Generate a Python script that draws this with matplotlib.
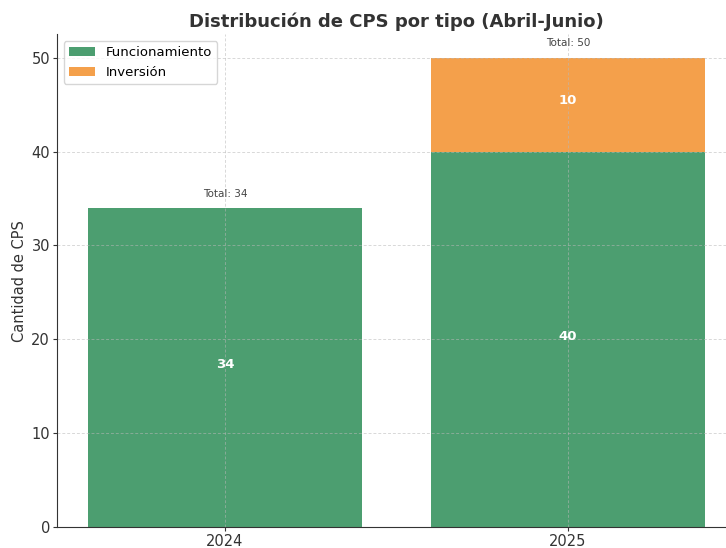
import matplotlib
matplotlib.use("Agg")
import matplotlib.pyplot as plt
import numpy as np

years = ["2024", "2025"]
funcionamiento = [34, 40]
inversion = [0, 10]
totals = [34, 50]

green = "#4c9e70"
orange = "#f4a04b"

fig = plt.figure(figsize=(7.26, 5.48), dpi=100)
ax = fig.add_axes([0.0785, 0.0383, 0.935, 0.899])

x = np.arange(len(years))
ax.bar(x, funcionamiento, width=0.8, color=green, label="Funcionamiento", zorder=1)
ax.bar(x, inversion, width=0.8, bottom=funcionamiento, color=orange, label="Inversión", zorder=1)

for i in range(len(years)):
    ax.text(x[i], funcionamiento[i] / 2 + 0.3, str(funcionamiento[i]), ha="center", va="center",
            color="white", fontsize=9.5, fontweight="bold", zorder=4)
    if inversion[i] > 0:
        ax.text(x[i], funcionamiento[i] + inversion[i] / 2 + 0.4, str(inversion[i]), ha="center", va="center",
                color="white", fontsize=9.5, fontweight="bold", zorder=4)
    ax.text(x[i], totals[i] + 1, f"Total: {totals[i]}", ha="center", va="bottom",
            color="#444444", fontsize=7.5, zorder=4)

ax.set_xticks(x)
ax.set_xticklabels(years)
ax.tick_params(axis="both", labelsize=10.5, colors="#333333", length=3, pad=2)
ax.set_ylabel("Cantidad de CPS", fontsize=10.5, color="#333333", labelpad=3)
ax.set_title("Distribución de CPS por tipo (Abril-Junio)", fontsize=13, fontweight="bold", color="#333333", pad=5)
ax.set_axisbelow(False)
ax.grid(True, linestyle=(0, (3, 2)), color="#b8b8b8", linewidth=0.7, alpha=0.55, zorder=2)
ax.spines["top"].set_visible(False)
ax.spines["right"].set_visible(False)
for s in ("left", "bottom"):
    ax.spines[s].set_color("#333333")
    ax.spines[s].set_zorder(3)
ax.set_ylim(0, 52.5)
ax.set_xlim(-0.49, 1.49)
leg = ax.legend(loc="upper left", fontsize=9.5, frameon=True)
leg.set_zorder(5)

fig.savefig("out.png", dpi=100)
